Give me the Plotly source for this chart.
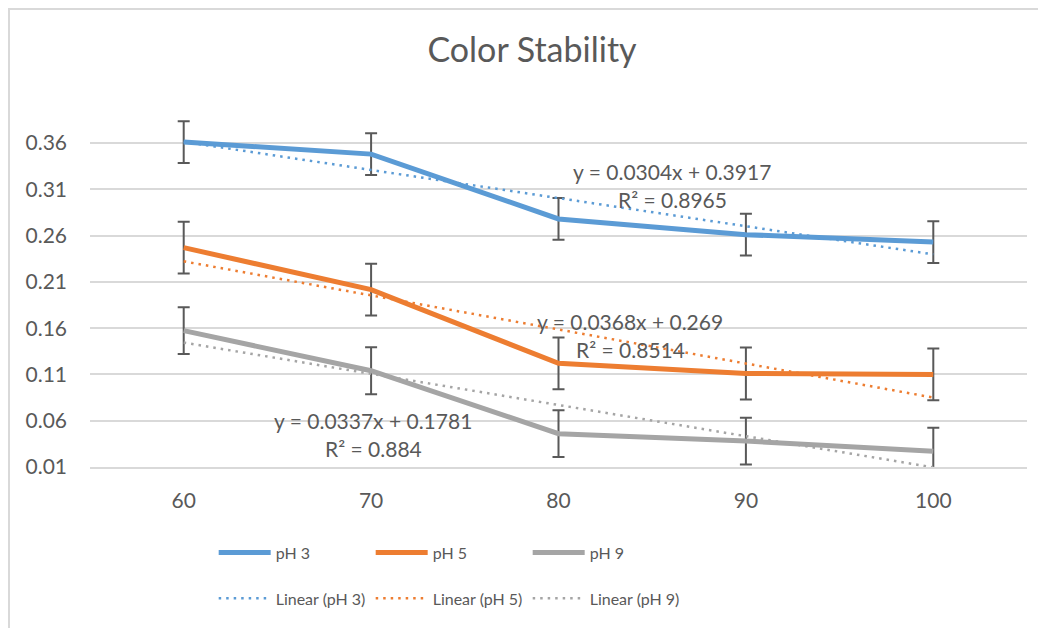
import plotly.graph_objects as go

categories = ["60", "70", "80", "90", "100"]
series_names = ["pH 3", "pH 5", "pH 9"]
ph3 = [0.361, 0.348, 0.278, 0.261, 0.253]
ph5 = [0.247, 0.2016, 0.122, 0.111, 0.110]
ph9 = [0.1573, 0.114, 0.046, 0.038, 0.027]
errors = [0.0226, 0.028, 0.0253]
trend_slopes = [-0.0304, -0.0368, -0.0337]
trend_intercepts = [0.3917, 0.269, 0.1781]
eq_labels = ["y = 0.0304x + 0.3917", "y = 0.0368x + 0.269", "y = 0.0337x + 0.1781"]
r2_labels = ["R² = 0.8965", "R² = 0.8514", "R² = 0.884"]
y_ticks = [0.01, 0.06, 0.11, 0.16, 0.21, 0.26, 0.31, 0.36]

colors = ["#5B9BD5", "#ED7D31", "#A5A5A5"]
text_color = "#595959"
font_family = "Lato, 'Open Sans', sans-serif"

# layout geometry (figure pixels)
W, H = 1046, 628
ML, MR, MT, MB = 82, 27, 97.6, 168.7
PW = W - ML - MR
PH = H - MT - MB

values = [ph3, ph5, ph9]
fig = go.Figure()

for name, vals, err, col in zip(series_names, values, errors, colors):
    fig.add_trace(go.Scatter(
        x=categories, y=vals, mode="lines", name=name,
        line=dict(color=col, width=5),
        error_y=dict(type="constant", value=err, color="#595959", thickness=2, width=6),
        legend="legend",
    ))

for name, slope, icpt, col in zip(series_names, trend_slopes, trend_intercepts, colors):
    ty = [slope * (i + 1) + icpt for i in range(len(categories))]
    fig.add_trace(go.Scatter(
        x=categories, y=ty, mode="lines", name="Linear (" + name + ")",
        line=dict(color=col, width=2.5, dash="2.5px,5px"),
        legend="legend2",
    ))

# trendline labels (category index, y value)
label_pos = [(2.607, 0.3295, 0.2995), (2.383, 0.1667, 0.1367), (1.012, 0.0599, 0.0297)]
for (xi, y1, y2), eq, r2 in zip(label_pos, eq_labels, r2_labels):
    for txt, yy in ((eq, y1), (r2, y2)):
        fig.add_annotation(x=xi, y=yy, xref="x", yref="y", text=txt, showarrow=False,
                           xanchor="center", yanchor="middle",
                           font=dict(family=font_family, size=21, color=text_color))

legend_common = dict(orientation="h", x=0.132, xanchor="left", yanchor="middle",
                     itemwidth=52, entrywidth=90, traceorder="normal",
                     font=dict(family=font_family, size=16, color=text_color),
                     bgcolor="rgba(0,0,0,0)")

fig.update_layout(
    width=W, height=H,
    margin=dict(l=ML, r=MR, t=MT, b=MB),
    paper_bgcolor="white", plot_bgcolor="white",
    font=dict(family=font_family, color=text_color),
    title=dict(text="Color Stability", x=0.501, xref="container", xanchor="center",
               y=1 - 42 / 628, yref="container", yanchor="middle",
               font=dict(family=font_family, size=34, color=text_color)),
    xaxis=dict(type="category", range=[-0.5, 4.5], showgrid=False, showline=True,
               linecolor="#d9d9d9", linewidth=1.5, ticks="", ticklabelstandoff=14,
               tickfont=dict(family=font_family, size=21, color=text_color), zeroline=False),
    yaxis=dict(range=[0.01, 0.40], tickvals=y_ticks, ticktext=[f"{v:.2f}" for v in y_ticks],
               showgrid=True, gridcolor="#d9d9d9", gridwidth=1.5, zeroline=False,
               showline=False, ticks="", ticklabelstandoff=22,
               tickfont=dict(family=font_family, size=21, color=text_color)),
    legend=dict(legend_common, y=-0.237),
    legend2=dict(legend_common, y=-0.364),
    showlegend=True,
)

# chart-area border (left and top edges visible)
fig.add_shape(type="rect", xref="paper", yref="paper",
              x0=(1 - ML) / PW, x1=(W + 20 - ML) / PW,
              y0=(MT + PH - (H + 20)) / PH, y1=(MT + PH - 0.5) / PH,
              line=dict(color="#d9d9d9", width=2), fillcolor="rgba(0,0,0,0)", layer="below")

fig.write_html("out.html")
